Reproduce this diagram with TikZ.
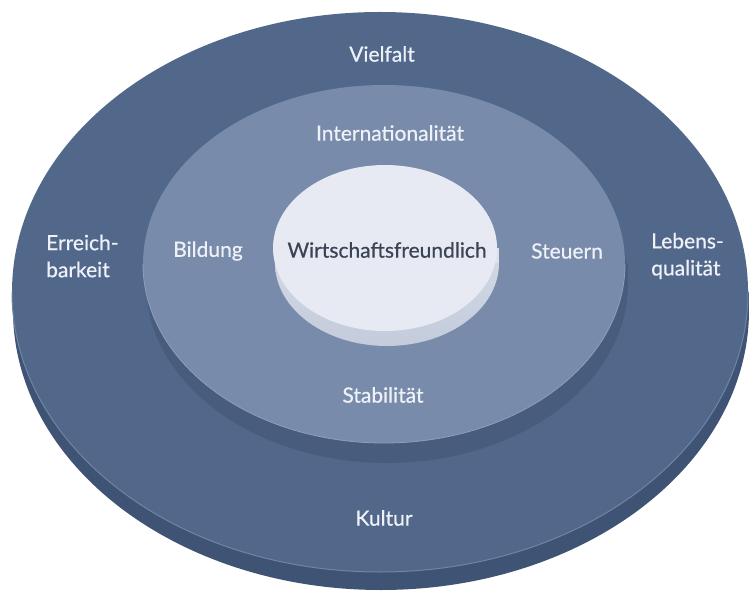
\documentclass[tikz,border=0pt]{standalone}
\usepackage{fontspec}
\setmainfont{Lato}[FakeBold=0.6]
\definecolor{outerface}{HTML}{52688A}
\definecolor{outerside}{HTML}{3F5374}
\definecolor{outerrim}{HTML}{7084A5}
\definecolor{midface}{HTML}{788BAB}
\definecolor{midside}{HTML}{485C7E}
\definecolor{midrim}{HTML}{8E9FBD}
\definecolor{coreface}{HTML}{E7EAF2}
\definecolor{coresidetop}{HTML}{DCE1EB}
\definecolor{coresidebot}{HTML}{C4CCDC}
\definecolor{labeltext}{HTML}{EEF1F7}
\definecolor{coretext}{HTML}{3A4456}

\begin{document}
\begin{tikzpicture}[x=1pt,y=1pt,
    lbl/.style={text=labeltext,font=\fontsize{21}{27}\selectfont,inner sep=0pt},
    corelbl/.style={lbl,text=coretext}]
    \useasboundingbox (0,0) rectangle (749,-593);

    % Outer disc
    \fill[outerside] (381,-310) ellipse [x radius=368pt,y radius=280pt];
    \fill[outerside] (12,-292) rectangle (749,-310);
    \fill[outerface] (380,-292) ellipse [x radius=368pt,y radius=280pt];
    \draw[outerrim,line width=1pt] (12,-292) arc[start angle=180,end angle=360,x radius=368pt,y radius=280pt];

    % Middle disc
    \fill[midside] (387,-284) ellipse [x radius=241pt,y radius=179pt];
    \fill[midside] (146,-264) rectangle (628,-284);
    \fill[midface] (384,-264) ellipse [x radius=241pt,y radius=179pt];
    \draw[midrim,line width=0.8pt] (143,-264) arc[start angle=180,end angle=360,x radius=241pt,y radius=179pt];

    % Core disc
    \shade[top color=coresidetop,bottom color=coresidebot] (387,-263) ellipse [x radius=112pt,y radius=83pt];
    \fill[coresidetop] (275,-248) rectangle (499,-263);
    \fill[coreface] (385,-248) ellipse [x radius=112pt,y radius=83pt];

    % Labels
    \node[corelbl] (Wf) at (387,-250) {Wirtschaftsfreundlich};
    \node[lbl] (Vf) at (382,-54) {Vielfalt};
    \node[lbl] (Int) at (390,-133) {Internationalität};
    \node[lbl] (Bi) at (208,-251) {Bildung};
    \node[lbl] (St) at (567,-251) {Steuern};
    \node[lbl] (Sb) at (383,-395) {Stabilität};
    \node[lbl] (Ku) at (384,-518) {Kultur};
    \node[lbl,align=left,anchor=west] (Er) at (46,-256) {Erreich-\\barkeit};
    \node[lbl,align=left,anchor=west] (Lq) at (651,-256) {Lebens-\\qualität};
\end{tikzpicture}
\end{document}
